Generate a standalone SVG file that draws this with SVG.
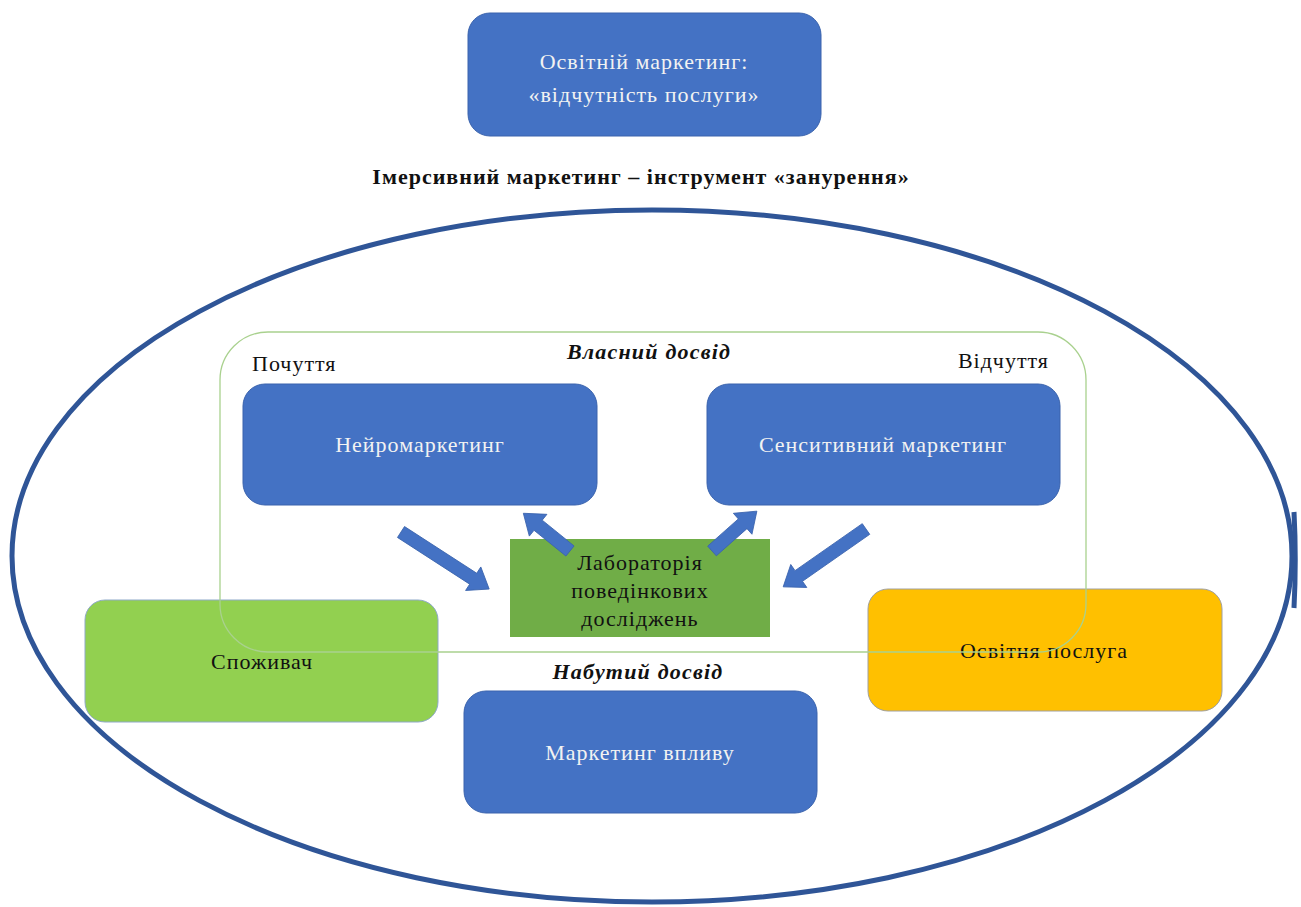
<svg xmlns="http://www.w3.org/2000/svg" width="1301" height="907" viewBox="0 0 1301 907">
<style>
.blue{fill:#4472C4;stroke:#3A63AD;stroke-width:1}
.wt{font-family:"Liberation Serif",serif;font-size:22px;letter-spacing:1px;fill:#F2F2F2;text-anchor:middle}
.bt{font-family:"Liberation Serif",serif;font-size:22px;letter-spacing:1px;fill:#111;text-anchor:middle}
.lbl{font-family:"Liberation Serif",serif;font-size:22px;letter-spacing:1px;fill:#111}
.bi{font-family:"Liberation Serif",serif;font-size:22px;letter-spacing:1.2px;font-weight:bold;font-style:italic;fill:#111;text-anchor:middle}
.arr{fill:#4472C4;stroke:#3A63AD;stroke-width:0.8}
</style>
<rect x="0" y="0" width="1301" height="907" fill="#fff"/>
<g id="top-box">
<rect class="blue" x="468" y="13" width="353" height="123" rx="22"/>
<text class="wt" x="644" y="69">Освітній маркетинг:</text>
<text class="wt" x="644" y="102">«відчутність послуги»</text>
</g>
<g id="title">
<text x="641" y="184" font-family="Liberation Serif, serif" font-size="22" letter-spacing="1" font-weight="bold" fill="#111" text-anchor="middle">Імерсивний маркетинг – інструмент «занурення»</text>
</g>
<g id="ellipse">
<ellipse cx="652" cy="556" rx="640" ry="346" fill="none" stroke="#2F5597" stroke-width="5"/>
<path d="M1294,512 Q1296.5,560 1294,608" fill="none" stroke="#2F5597" stroke-width="5"/>
</g>
<g id="neuro">
<rect class="blue" x="243" y="384" width="354" height="121" rx="22"/>
<text class="wt" x="420" y="452">Нейромаркетинг</text>
</g>
<g id="sensitive">
<rect class="blue" x="707" y="384" width="353" height="121" rx="22"/>
<text class="wt" x="883" y="452">Сенситивний маркетинг</text>
</g>
<g id="lab">
<rect x="510" y="539" width="260" height="98" fill="#70AD47"/>
<text class="bt" x="640" y="570">Лабораторія</text>
<text class="bt" x="640" y="598">поведінкових</text>
<text class="bt" x="640" y="626">досліджень</text>
</g>
<g id="consumer">
<rect x="85" y="600" width="353" height="122" rx="20" fill="#92D050" stroke="#8FA9C8" stroke-width="1"/>
<text class="bt" x="262" y="669">Споживач</text>
</g>
<g id="service">
<rect x="868" y="589" width="354" height="122" rx="20" fill="#FFC000" stroke="#A0A0A0" stroke-width="1"/>
<text class="bt" x="1044" y="658">Освітня послуга</text>
</g>
<g id="influence">
<rect class="blue" x="464" y="691" width="353" height="122" rx="22"/>
<text class="wt" x="640" y="760">Маркетинг впливу</text>
</g>
<g id="frame">
<rect x="220" y="332" width="866" height="320" rx="48" fill="none" stroke="#A9D18E" stroke-width="1.3"/>
</g>
<g id="labels">
<text class="lbl" x="252" y="371">Почуття</text>
<text class="lbl" x="1049" y="368" text-anchor="end">Відчуття</text>
<text class="bi" x="649" y="359">Власний досвід</text>
<text class="bi" x="638" y="679">Набутий досвід</text>
</g>
<g id="connectors">
<polygon class="arr" transform="translate(401,532) rotate(32.9)" points="0,-6.5 86,-6.5 86,-14 105,0 86,14 86,6.5 0,6.5"/>
<polygon class="arr" transform="translate(570,551) rotate(218.96)" points="0,-6.5 41,-6.5 41,-14 60,0 41,14 41,6.5 0,6.5"/>
<polygon class="arr" transform="translate(712,551) rotate(-41.6)" points="0,-6.5 41,-6.5 41,-14 60,0 41,14 41,6.5 0,6.5"/>
<polygon class="arr" transform="translate(866,529) rotate(145.06)" points="0,-6.5 82,-6.5 82,-14 101,0 82,14 82,6.5 0,6.5"/>
</g>
</svg>
